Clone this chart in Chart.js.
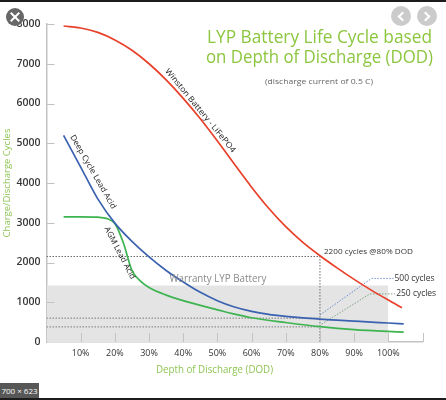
<!DOCTYPE html>
<html>
<head>
<meta charset="utf-8">
<script src="https://cdn.jsdelivr.net/npm/chart.js@4.4.0/dist/chart.umd.min.js"></script>
<style>
  body { margin: 0; background: #fff; }
  #wrap { position: relative; width: 446px; height: 400px; overflow: hidden; background: #fff; }
  #chart { position: absolute; left: 0; top: 0; }
  .bar { position: absolute; left: 0; width: 446px; height: 2px; background: #1c1c1c; }
  .close { position: absolute; left: 6px; top: 8px; width: 18px; height: 18px; border-radius: 50%; background: #676767; }
  .close:before, .close:after { content: ''; position: absolute; left: 3px; top: 8px; width: 12px; height: 2px; background: #fff; }
  .close:before { transform: rotate(45deg); }
  .close:after { transform: rotate(-45deg); }
  .nav { position: absolute; top: 6px; width: 20px; height: 20px; border-radius: 50%; background: #cbcbcb; }
  .nav:after { content: ''; position: absolute; top: 7px; width: 5px; height: 5px; border-top: 2px solid #fff; border-left: 2px solid #fff; }
  .nav.prev:after { left: 8px; transform: rotate(-45deg); }
  .nav.next:after { left: 5px; transform: rotate(135deg); }
  .size { position: absolute; left: 0; top: 383px; width: 39px; height: 15px; background: #575757; color: #fff;
          font: 8px "Open Sans", sans-serif; line-height: 15px; text-align: center; }
</style>
</head>
<body>
<div id="wrap">
  <canvas id="chart" width="446" height="400"></canvas>
  <div class="bar" style="top:0"></div>
  <div class="bar" style="top:398px"></div>
  <div class="close"></div>
  <div class="nav prev" style="left:391px"></div>
  <div class="nav next" style="left:417px"></div>
  <div class="size">700 × 623</div>
</div>
<script>
// values (x = depth of discharge %, y = cycles)
const winstonX = [5, 10, 15, 20, 25, 30, 35, 40, 45, 50, 55, 60, 65, 70, 75, 80, 85, 90, 95, 100, 104];
const winstonY = [7950, 7900, 7790, 7600, 7340, 7000, 6595, 6130, 5615, 5055, 4470, 3895, 3365, 2900, 2505, 2170, 1865, 1575, 1305, 1055, 863];

const deepX = [5, 10, 15, 20, 25, 30, 35, 40, 45, 50, 55, 60, 65, 70, 75, 80, 85, 90, 95, 100, 104.5];
const deepY = [5200, 4400, 3600, 2990, 2530, 2140, 1800, 1510, 1250, 1040, 880, 770, 695, 645, 605, 575, 550, 525, 500, 478, 455];

const agmX = [5, 10, 15, 17.5, 20, 22.5, 25, 27.5, 30, 35, 40, 45, 50, 55, 60, 70, 80, 90, 104.5];
const agmY = [3150, 3150, 3140, 3110, 2980, 2490, 1800, 1530, 1370, 1180, 1040, 920, 810, 700, 610, 490, 385, 310, 250];

const warrantyX = [0, 100];
const warrantyY = [1420, 1420];

const mark2200X = [0, 80, 80];
const mark2200Y = [2150, 2150, 0];
const deepRefX = [0, 80];
const deepRefY = [600, 600];
const agmRefX = [0, 80];
const agmRefY = [380, 380];
const lead500X = [80, 95.1, 101.5];
const lead500Y = [680, 1600, 1600];
const lead250X = [80.5, 94.6, 102];
const lead250Y = [450, 1210, 1210];

const yTicks = [0, 1000, 2000, 3000, 4000, 5000, 6000, 7000, 8000];
const xTickLabels = ['10%', '20%', '30%', '40%', '50%', '60%', '70%', '80%', '90%', '100%'];

const toPts = (xs, ys) => xs.map((x, i) => ({ x: x, y: ys[i] }));

const FONT = '"Open Sans", "Noto Sans", sans-serif';

function curve(label, xs, ys, color) {
  return {
    label: label, data: toPts(xs, ys), borderColor: color, borderWidth: 1.7,
    pointRadius: 0, cubicInterpolationMode: 'monotone', fill: false, order: 1
  };
}
function dotted(xs, ys, color) {
  return {
    data: toPts(xs, ys), borderColor: color, borderWidth: 1, borderDash: [1.5, 1.5],
    pointRadius: 0, tension: 0, fill: false, order: 5
  };
}

// text with its width forced to what the picture shows
function fitText(ctx, text, x, y, opt) {
  ctx.save();
  ctx.font = (opt.weight || 'normal') + ' ' + opt.size + 'px ' + FONT;
  ctx.fillStyle = opt.color;
  ctx.textBaseline = opt.baseline || 'middle';
  ctx.textAlign = opt.align || 'center';
  ctx.translate(x, y);
  if (opt.angle) ctx.rotate(opt.angle * Math.PI / 180);
  if (opt.width) {
    const w = ctx.measureText(text).width;
    ctx.scale(opt.width / w, 1);
  }
  ctx.fillText(text, 0, 0);
  ctx.restore();
}

const extras = {
  id: 'extras',
  afterDraw(chart) {
    const { ctx, scales: { x, y } } = chart;
    ctx.save();
    ctx.strokeStyle = '#c3c3c3';
    ctx.lineWidth = 1;
    ctx.beginPath();
    y.ticks.forEach(t => {
      if (t.value === 0) return;
      const py = Math.round(y.getPixelForValue(t.value)) + 0.5;
      ctx.moveTo(x.left, py); ctx.lineTo(x.left + 8, py);
    });
    x.ticks.forEach(t => {
      if (t.value === 0) return;
      const px = Math.round(x.getPixelForValue(t.value)) + 0.5;
      ctx.moveTo(px, y.bottom); ctx.lineTo(px, y.bottom - 9);
    });
    ctx.stroke();
    ctx.restore();

    // headline
    fitText(ctx, 'LYP Battery Life Cycle based', 319.5, 43, { size: 18, color: '#8cc63f', width: 225, baseline: 'alphabetic' });
    fitText(ctx, 'on Depth of Discharge (DOD)', 319.5, 63.3, { size: 18, color: '#8cc63f', width: 227, baseline: 'alphabetic' });
    fitText(ctx, '(discharge current of 0.5 C)', 319, 81.5, { size: 8, color: '#666', width: 108 });

    // x axis title
    fitText(ctx, 'Depth of Discharge (DOD)', 214.5, 370, { size: 10, color: '#8fc454', width: 117 });

    // curve names, anchored on the data scales
    const at = (vx, vy) => [x.getPixelForValue(vx), y.getPixelForValue(vy)];
    let p = at(45, 5820);
    fitText(ctx, 'Winston Battery - LiFePO4', p[0], p[1], { size: 8, color: '#222', width: 106, angle: 50.5 });
    p = at(13.6, 4280);
    fitText(ctx, 'Deep Cycle Lead Acid', p[0], p[1], { size: 8, color: '#222', width: 84, angle: 60 });
    p = at(21.4, 2240);
    fitText(ctx, 'AGM Lead Acid', p[0], p[1], { size: 8, color: '#222', width: 58, angle: 62.5 });

    // notes
    p = at(80, 2150);
    fitText(ctx, '2200 cycles @80% DOD', p[0] + 4, p[1] - 4.5, { size: 8, color: '#333', width: 89, align: 'left' });
    p = at(lead500X[2], lead500Y[2]);
    fitText(ctx, '500 cycles', p[0] + 1, p[1], { size: 8.5, color: '#333', width: 40, align: 'left' });
    p = at(lead250X[2], lead250Y[2]);
    fitText(ctx, '250 cycles', p[0] + 1, p[1], { size: 8.5, color: '#333', width: 40, align: 'left' });
    p = at(50, 1420);
    fitText(ctx, 'Warranty LYP Battery', p[0] + 0.5, p[1] - 6.5, { size: 10, color: '#8a8a8a', width: 97 });
  }
};

new Chart(document.getElementById('chart'), {
  type: 'line',
  data: {
    datasets: [
      {
        data: toPts(warrantyX, warrantyY), borderWidth: 0, borderColor: 'rgba(0,0,0,0)',
        backgroundColor: '#e4e4e4', fill: 'origin', pointRadius: 0, tension: 0, order: 10
      },
      dotted(mark2200X, mark2200Y, '#6a6a6a'),
      dotted(deepRefX, deepRefY, '#7a7a7a'),
      dotted(agmRefX, agmRefY, '#7a7a7a'),
      dotted(lead500X, lead500Y, '#6f8fd0'),
      dotted(lead250X, lead250Y, '#7fa383'),
      curve('Winston Battery - LiFePO4', winstonX, winstonY, '#e8402a'),
      curve('Deep Cycle Lead Acid', deepX, deepY, '#3b62b0'),
      curve('AGM Lead Acid', agmX, agmY, '#3db450')
    ]
  },
  options: {
    responsive: false,
    animation: false,
    layout: { padding: { top: 24, right: 23.5, bottom: 28, left: 0 } },
    plugins: { legend: { display: false }, tooltip: { enabled: false } },
    scales: {
      x: {
        type: 'linear', min: 0, max: 110, z: 1,
        grid: { display: false, drawTicks: false },
        border: { display: true, color: '#c3c3c3', width: 1.5 },
        ticks: {
          stepSize: 10, autoSkip: false, maxRotation: 0, padding: 6,
          color: '#333', font: { family: FONT, size: 9 },
          callback: v => xTickLabels[v / 10 - 1] || ''
        },
        afterFit: s => { s.height = 30; }
      },
      y: {
        min: 0, max: 8000, z: 1,
        grid: { display: false, drawTicks: false },
        border: { display: true, color: '#c3c3c3', width: 1.5 },
        afterBuildTicks: s => { s.ticks = yTicks.map(v => ({ value: v })); },
        ticks: {
          padding: 6, color: '#383838', font: { family: FONT, size: 10.5, weight: '600' },
          callback: v => String(v)
        },
        title: {
          display: true, text: 'Charge/Discharge Cycles', color: '#8fc454',
          font: { family: FONT, size: 9.5 }, padding: { top: 2, bottom: 0 }
        },
        afterFit: s => { s.width = 46.5; }
      }
    }
  },
  plugins: [extras]
});
</script>
</body>
</html>
